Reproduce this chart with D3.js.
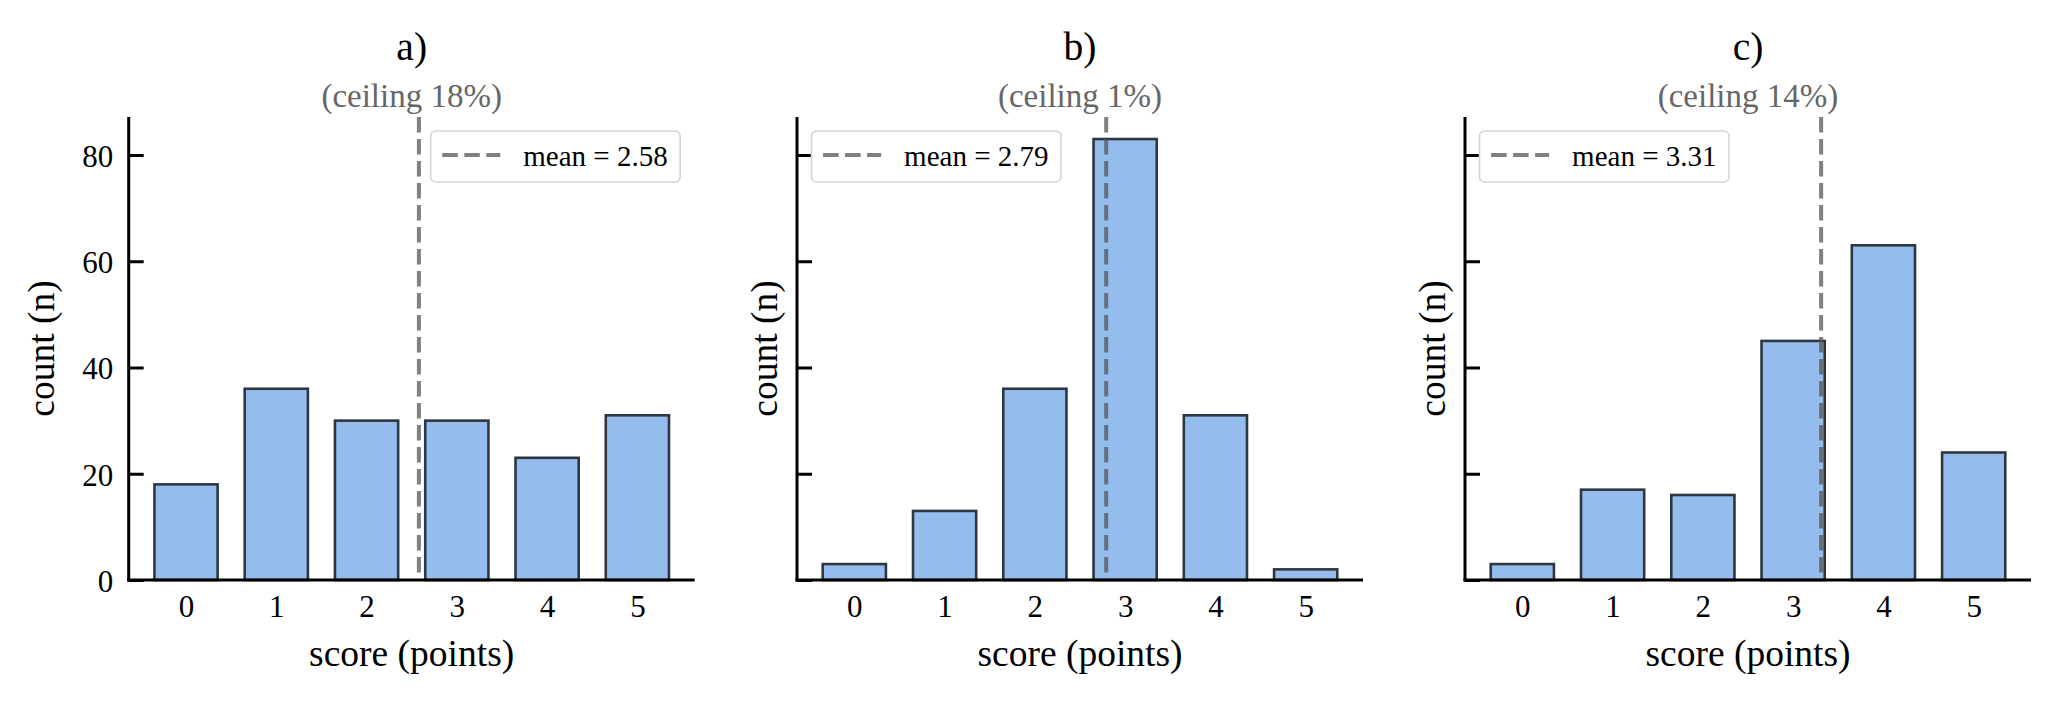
<!DOCTYPE html>
<html lang="en">
<head>
<meta charset="UTF-8">
<title>Score histograms</title>
<script src="https://cdn.jsdelivr.net/npm/d3@7"></script>
<style>
  body, html { margin: 0; background: #fff; }
  svg { display: block; font-family: "Liberation Serif", "Times New Roman", serif; }
</style>
</head>
<body>
<svg id="chart" width="2058" height="705"></svg>
<script>
// data
const scores = [0, 1, 2, 3, 4, 5];
const panelTitles = ["a)", "b)", "c)"];
const countsA = [18, 36, 30, 30, 23, 31];
const countsB = [3, 13, 36, 83, 31, 2];
const countsC = [3, 17, 16, 45, 63, 24];
const means = [2.58, 2.79, 3.31];
const ceilings = ["18%", "1%", "14%"];
const yTicks = [0, 20, 40, 60, 80];
const legendSide = ["right", "left", "left"];

const allCounts = [countsA, countsB, countsC];

const svg = d3.select("#chart");
const W = 566, plotTop = 117, plotBottom = 580;
const lefts = [128.7, 797, 1465];
const yMax = d3.max(allCounts.flat()) * 1.05;
const y = d3.scaleLinear().domain([0, yMax]).range([plotBottom, plotTop]);
const barW = 0.7;

allCounts.forEach(function (counts, i) {
    const left = lefts[i];
    const x = d3.scaleLinear().domain([-0.35 - 0.285, 5.35 + 0.285]).range([left, left + W]);
    const g = svg.append("g");
    const cx = left + W / 2;

    // bars
    g.selectAll("rect.bar").data(counts).enter().append("rect")
        .attr("class", "bar")
        .attr("x", (d, j) => x(scores[j] - barW / 2))
        .attr("width", x(barW) - x(0))
        .attr("y", d => y(d))
        .attr("height", d => y(0) - y(d))
        .attr("fill", "#94bdee")
        .attr("stroke", "#2e3640")
        .attr("stroke-width", 2.6);

    // mean line
    g.append("line")
        .attr("x1", x(means[i])).attr("x2", x(means[i]))
        .attr("y1", plotTop).attr("y2", plotBottom)
        .attr("stroke", "#555").attr("stroke-opacity", 0.75)
        .attr("stroke-width", 4)
        .attr("stroke-dasharray", "15.5,6.5");

    // y axis: inward ticks, labels only on first panel
    const yAxis = d3.axisRight(y).tickValues(yTicks).tickSize(15)
        .tickFormat(i === 0 ? d3.format("d") : "");
    const ya = g.append("g").attr("transform", "translate(" + left + ",0)").call(yAxis)
        .attr("font-family", null).attr("font-size", null);
    ya.select(".domain").remove();
    ya.selectAll(".tick line").attr("stroke", "#000").attr("stroke-width", 3);
    ya.selectAll(".tick text")
        .attr("x", -15.5).attr("dy", "0.37em")
        .attr("text-anchor", "end")
        .attr("font-size", 31).attr("fill", "#000");

    // x axis labels (no tick marks)
    const xAxis = d3.axisBottom(x).tickValues(scores).tickSize(0).tickFormat(d3.format("d"));
    const xa = g.append("g").attr("transform", "translate(0," + plotBottom + ")").call(xAxis)
        .attr("font-family", null).attr("font-size", null);
    xa.select(".domain").remove();
    xa.selectAll(".tick text").attr("y", 37).attr("dy", 0)
        .attr("font-size", 31).attr("fill", "#000");

    // spines
    g.append("line").attr("x1", left).attr("x2", left).attr("y1", plotTop).attr("y2", plotBottom + 1.5)
        .attr("stroke", "#000").attr("stroke-width", 3);
    g.append("line").attr("x1", left - 1.5).attr("x2", left + W).attr("y1", plotBottom).attr("y2", plotBottom)
        .attr("stroke", "#000").attr("stroke-width", 3);

    // titles
    g.append("text").attr("x", cx).attr("y", 60).attr("text-anchor", "middle")
        .attr("font-size", 39.5).attr("fill", "#000").text(panelTitles[i]);
    g.append("text").attr("x", cx).attr("y", 107).attr("text-anchor", "middle")
        .attr("font-size", 33).attr("fill", "#666").text("(ceiling " + ceilings[i] + ")");

    // axis labels
    g.append("text").attr("x", cx).attr("y", 666).attr("text-anchor", "middle")
        .attr("font-size", 37.5).attr("fill", "#000").text("score (points)");
    const ylx = i === 0 ? 54 : left - 20;
    g.append("text").attr("transform", "translate(" + ylx + "," + ((plotTop + plotBottom) / 2) + ") rotate(-90)")
        .attr("text-anchor", "middle")
        .attr("font-size", 37.5).attr("fill", "#000").text("count (n)");

    // legend
    const lg = g.append("g");
    const box = lg.append("rect");
    const txt = lg.append("text").attr("font-size", 29).attr("fill", "#000")
        .text("mean = " + means[i].toFixed(2));
    const tw = txt.node().getComputedTextLength();
    const bw = 11.6 + 58 + 23 + tw + 12.5;
    const bx = legendSide[i] === "right" ? left + W - 14.5 - bw : left + 14.5;
    box.attr("x", bx).attr("y", 131).attr("width", bw).attr("height", 51)
        .attr("rx", 5).attr("fill", "#fff").attr("fill-opacity", 0.8)
        .attr("stroke", "#d4d4d4").attr("stroke-width", 1.6);
    lg.append("line").attr("x1", bx + 11.6).attr("x2", bx + 11.6 + 58)
        .attr("y1", 155).attr("y2", 155)
        .attr("stroke", "#555").attr("stroke-opacity", 0.75)
        .attr("stroke-width", 4).attr("stroke-dasharray", "15.5,6.5");
    txt.attr("x", bx + 11.6 + 58 + 23).attr("y", 165.5);
});
</script>
</body>
</html>
